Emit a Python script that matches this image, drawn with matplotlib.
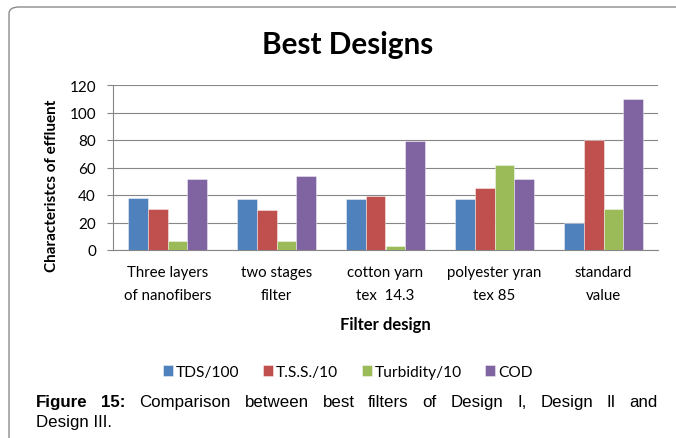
import matplotlib
matplotlib.use("Agg")
import matplotlib.pyplot as plt
from matplotlib.patches import FancyBboxPatch
import numpy as np

# Data
categories = ["Three layers\nof nanofibers", "two stages\nfilter", "cotton yarn\ntex  14.3",
              "polyester yran\ntex 85", "standard\nvalue"]
series_names = ["TDS/100", "T.S.S./10", "Turbidity/10", "COD"]
tds_100 = [37.5, 37, 37, 37, 20]
tss_10 = [29.5, 29, 39, 45, 80]
turbidity_10 = [6.5, 6.5, 3, 62, 30]
cod = [52, 53.5, 79, 52, 110]
series_values = [tds_100, tss_10, turbidity_10, cod]
colors = ["#4F81BD", "#C0504D", "#9BBB59", "#8064A2"]
yticks = [0, 20, 40, 60, 80, 100, 120]

W, H = 676, 439
fig = plt.figure(figsize=(W / 100, H / 100), dpi=100)
fig.patch.set_facecolor("white")

chart_font = "Lato"
caption_font = "Liberation Sans"

def fx(px):
    return px / W

def fy(py):
    return 1 - py / H

# Outer chart frame with a rounded corner
frame = FancyBboxPatch((fx(9), fy(700)), fx(900), fy(8) - fy(700),
                       boxstyle="round,pad=0,rounding_size=0.015",
                       transform=fig.transFigure, facecolor="none",
                       edgecolor="#8c8c8c", linewidth=1.0, clip_on=False)
fig.patches.append(frame)

ax = fig.add_axes([fx(113), fy(251), fx(658) - fx(113), fy(86) - fy(251)])
x = np.arange(len(categories))
bw = 0.181
for i, (vals, c, name) in enumerate(zip(series_values, colors, series_names)):
    ax.bar(x + (i - 1.5) * bw, vals, width=bw, color=c, label=name,
           edgecolor=(1, 1, 1, 0.5), linewidth=0.6, zorder=3)

ax.set_xlim(-0.5, len(categories) - 0.5)
ax.set_ylim(0, 120)
ax.set_yticks(yticks)
ax.set_yticklabels([str(v) for v in yticks], fontfamily=chart_font, fontsize=11)
ax.set_xticks(x)
ax.set_xticklabels(categories, fontfamily=chart_font, fontsize=10.8, linespacing=1.75)
ax.tick_params(axis="x", length=0, pad=11)
ax.tick_params(axis="y", length=4.3, width=0.8, color="#868686", pad=8)
ax.grid(axis="y", color="#868686", linewidth=0.8, zorder=0)
ax.set_axisbelow(True)
for s in ["top", "right"]:
    ax.spines[s].set_visible(False)
for s in ["left", "bottom"]:
    ax.spines[s].set_color("#868686")
    ax.spines[s].set_linewidth(0.8)

fig.text(fx(348), fy(45), "Best Designs", fontfamily=chart_font, fontweight="bold",
         fontsize=21.4, ha="center", va="center")
fig.text(fx(52.5), fy(186), "Characteristcs of effluent", fontfamily=chart_font,
         fontweight="bold", fontsize=11, rotation=90, ha="center", va="center")
fig.text(fx(385), fy(325), "Filter design", fontfamily=chart_font, fontweight="bold",
         fontsize=12, ha="center", va="center")

leg = fig.legend(loc="center", bbox_to_anchor=(fx(348), fy(373)), ncol=4, frameon=False,
                 prop={"family": chart_font, "size": 11.2}, handlelength=0.65,
                 handleheight=0.65, handletextpad=0.2, columnspacing=1.5)

# Justified caption, first line spans the full width
left_px, right_px = 36, 658
line1 = [("Figure", True), ("15:", True), ("Comparison", False), ("between", False),
         ("best", False), ("filters", False), ("of", False), ("Design", False),
         ("I,", False), ("Design", False), ("II", False), ("and", False)]
cap_size = 12.2
texts = []
for word, bold in line1:
    t = fig.text(0, fy(403), word, fontfamily=caption_font, fontsize=cap_size,
                 fontweight="bold" if bold else "normal", ha="left", va="center")
    texts.append(t)
fig.text(fx(left_px), fy(423), "Design III.", fontfamily=caption_font, fontsize=cap_size,
         ha="left", va="center")

fig.canvas.draw()
renderer = fig.canvas.get_renderer()
widths = [t.get_window_extent(renderer).width for t in texts]
gap = (right_px - left_px - sum(widths)) / (len(texts) - 1)
pos = left_px
for t, w in zip(texts, widths):
    t.set_x(fx(pos))
    pos += w + gap

fig.savefig("out.png", dpi=100)
